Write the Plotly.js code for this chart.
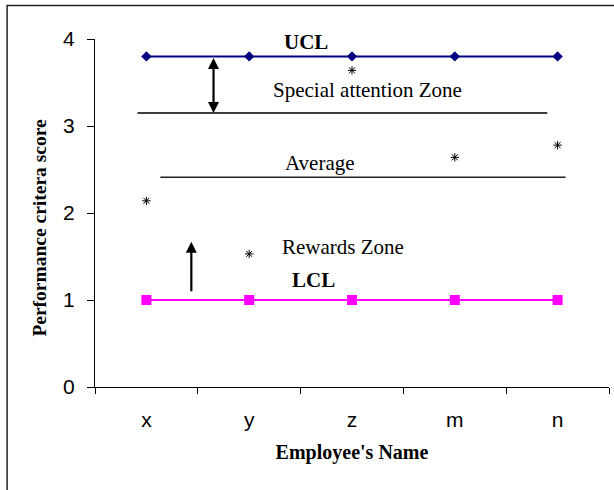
<!DOCTYPE html>
<html>
<head>
<meta charset="utf-8">
<script src="https://cdn.plot.ly/plotly-3.0.1.min.js"></script>
<style>
  html, body { margin: 0; padding: 0; background: #fff; }
  #chart { width: 614px; height: 490px; }
</style>
</head>
<body>
<div id="chart"></div>
<script>
// ---- data ----
const employees = ['x', 'y', 'z', 'm', 'n'];
const uclValues = [3.8, 3.8, 3.8, 3.8, 3.8];
const lclValues = [1.0, 1.0, 1.0, 1.0, 1.0];
const scoreValues = [2.14, 1.53, 3.64, 2.64, 2.78];
const averageLevel = [2.41];
const specialLevel = [3.15];
const yTicks = [0, 1, 2, 3, 4];

const serif = 'Liberation Serif, Times New Roman, serif';
const sans = 'Liberation Sans, Arial, sans-serif';

const traces = [
  {
    x: employees, y: uclValues, type: 'scatter', mode: 'lines+markers', name: 'UCL',
    line: {color: '#000080', width: 2},
    marker: {symbol: 'diamond', size: 8, color: '#000080'}
  },
  {
    x: employees, y: lclValues, type: 'scatter', mode: 'lines+markers', name: 'LCL',
    line: {color: '#FF00FF', width: 2},
    marker: {symbol: 'square', size: 10, color: '#FF00FF'}
  },
  {
    x: employees, y: scoreValues, type: 'scatter', mode: 'markers', name: 'Score',
    marker: {symbol: 'asterisk-open', size: 7, color: '#000', line: {color: '#000', width: 1}}
  }
];

const layout = {
  width: 614, height: 490,
  margin: {l: 95, r: 4.5, t: 38.7, b: 103},
  paper_bgcolor: '#fff', plot_bgcolor: '#fff',
  showlegend: false,
  xaxis: {
    type: 'category', range: [-0.5, 4.5],
    tickson: 'boundaries', ticks: 'outside', ticklen: 6, tickcolor: '#000',
    showline: true, linecolor: '#000', linewidth: 1, showgrid: false, zeroline: false,
    tickfont: {family: sans, size: 21, color: '#000'},
    ticklabelstandoff: 14,
    title: {text: "Employee's Name", font: {family: serif, size: 20, color: '#000', weight: 'bold'}, standoff: 14}
  },
  yaxis: {
    range: [0, 4], tickvals: yTicks, ticktext: yTicks.map(String),
    ticks: 'outside', ticklen: 7, tickcolor: '#000',
    showline: true, linecolor: '#000', linewidth: 1, showgrid: false, zeroline: false,
    tickfont: {family: sans, size: 21, color: '#000'},
    ticklabelstandoff: 8
  },
  shapes: [
    {type: 'line', xref: 'x', yref: 'y', x0: -0.087, x1: 3.9, y0: specialLevel[0], y1: specialLevel[0],
     line: {color: '#000', width: 1.5}},
    {type: 'line', xref: 'x', yref: 'y', x0: 0.136, x1: 4.078, y0: averageLevel[0], y1: averageLevel[0],
     line: {color: '#222', width: 1.5}},
    {type: 'rect', xref: 'paper', yref: 'paper', x0: -0.171, x1: 1.1, y0: -0.4, y1: 1.096,
     line: {color: '#222', width: 1.5}, layer: 'above'}
  ],
  annotations: [
    {x: -0.107, y: 0.458, xref: 'paper', yref: 'paper', xanchor: 'center', yanchor: 'middle',
     text: '<b>Performance critera score</b>',
     textangle: -90, showarrow: false, font: {family: serif, size: 19.5, color: '#000'}},
    {x: 1.553, y: 3.965, xref: 'x', yref: 'y', text: '<b>UCL</b>', showarrow: false,
     font: {family: serif, size: 21, color: '#000'}},
    {x: 2.146, y: 3.41, xref: 'x', yref: 'y', text: 'Special attention Zone', showarrow: false,
     font: {family: serif, size: 21, color: '#000'}},
    {x: 1.69, y: 2.57, xref: 'x', yref: 'y', text: 'Average', showarrow: false,
     font: {family: serif, size: 21, color: '#000'}},
    {x: 1.913, y: 1.604, xref: 'x', yref: 'y', text: 'Rewards Zone', showarrow: false,
     font: {family: serif, size: 21, color: '#000'}},
    {x: 1.626, y: 1.229, xref: 'x', yref: 'y', text: '<b>LCL</b>', showarrow: false,
     font: {family: serif, size: 21, color: '#000'}},
    {x: 0.653, y: 3.15, ax: 0.653, ay: 3.8, xref: 'x', yref: 'y', axref: 'x', ayref: 'y',
     text: '', showarrow: true, arrowhead: 2, startarrowhead: 2, arrowside: 'end+start',
     arrowsize: 1, startarrowsize: 1, arrowwidth: 2.2, arrowcolor: '#000', standoff: 0, startstandoff: 0},
    {x: 0.437, y: 1.669, ax: 0.437, ay: 1.083, xref: 'x', yref: 'y', axref: 'x', ayref: 'y',
     text: '', showarrow: true, arrowhead: 2, arrowsize: 1, arrowwidth: 2.2, arrowcolor: '#000', standoff: 0}
  ]
};

Plotly.newPlot('chart', traces, layout, {displayModeBar: false, staticPlot: true});
</script>
</body>
</html>
